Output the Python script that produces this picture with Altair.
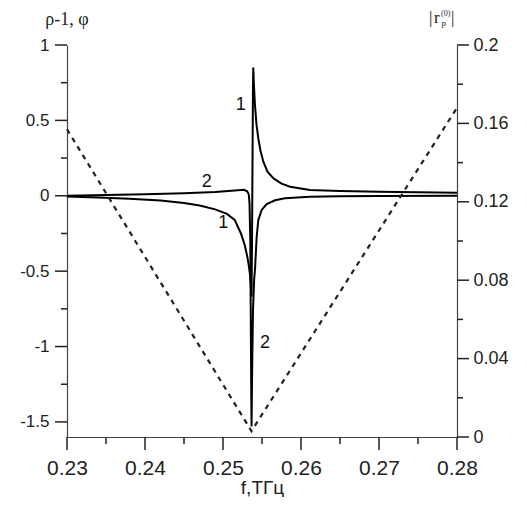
import altair as alt
import pandas as pd

# curve 1 (rho-1)
freq1 = [0.2300, 0.2340, 0.2380, 0.2420, 0.2450, 0.2470, 0.2490, 0.2505, 0.2515,
         0.2523, 0.2528, 0.2531, 0.2533, 0.25345, 0.25358, 0.25366, 0.25372,
         0.25378, 0.25384, 0.25388, 0.25395, 0.25410, 0.25430, 0.25453, 0.25480,
         0.25517, 0.25570, 0.25645, 0.25750, 0.25860, 0.26115, 0.2650, 0.2700,
         0.2750, 0.2800]
rho1 = [-0.005, -0.012, -0.020, -0.032, -0.048, -0.065, -0.090, -0.120, -0.160,
        -0.250, -0.330, -0.400, -0.460, -0.520, -0.600, -0.670, -0.300,
        0.200, 0.700, 0.850, 0.750, 0.600, 0.470, 0.380, 0.300,
        0.226, 0.160, 0.116, 0.080, 0.060, 0.038, 0.032, 0.027,
        0.023, 0.020]

# curve 2 (phi)
freq2 = [0.2300, 0.2350, 0.2400, 0.2450, 0.2490, 0.2515, 0.2527, 0.2531, 0.2533,
         0.25340, 0.25350, 0.25356, 0.25362, 0.25366, 0.25375, 0.25385, 0.25400,
         0.25410, 0.25432, 0.25453, 0.25496, 0.25560, 0.25667, 0.25795, 0.26115,
         0.2650, 0.2700, 0.2800]
phi2 = [0.000, 0.005, 0.010, 0.017, 0.025, 0.035, 0.040, 0.030, 0.010,
        -0.050, -0.300, -0.800, -1.300, -1.530, -1.100, -0.750, -0.550,
        -0.490, -0.270, -0.160, -0.094, -0.055, -0.030, -0.017, -0.006,
        -0.003, -0.001, 0.000]

# |r_p^(0)| dashed (right axis)
freq_r = [0.2300, 0.25365, 0.2800]
r_abs = [0.157, 0.003, 0.168]

# curve labels
lab_text = ["1", "2", "1", "2"]
lab_f = [0.25227, 0.24791, 0.25004, 0.25538]
lab_v = [0.602, 0.094, -0.183, -0.978]

x_major = [0.23, 0.24, 0.25, 0.26, 0.27, 0.28]
x_minor = [0.235, 0.245, 0.255, 0.265, 0.275]
yl_major = [-1.5, -1, -0.5, 0, 0.5, 1]
yl_minor = [-1.25, -0.75, -0.25, 0.25, 0.75]
yr_major = [0, 0.04, 0.08, 0.12, 0.16, 0.2]
yr_minor = [0.02, 0.06, 0.10, 0.14, 0.18]

W, H = 390, 392

df1 = pd.DataFrame({"f": freq1, "v": rho1})
df2 = pd.DataFrame({"f": freq2, "v": phi2})
dfr = pd.DataFrame({"f": freq_r, "r": r_abs})
dfl = pd.DataFrame({"f": lab_f, "v": lab_v, "t": lab_text})
one = pd.DataFrame({"a": [0]})

xs = alt.Scale(domain=[0.23, 0.28], nice=False, zero=False)
yl = alt.Scale(domain=[-1.6, 1], nice=False, zero=False)
yr = alt.Scale(domain=[0, 0.2], nice=False, zero=False)

AXC = "#444"
TKC = "#222"


def major_axis(values, orient, pad, fs, **extra):
    return alt.Axis(values=values, orient=orient, ticks=False,
                    domain=True, domainColor=AXC, domainWidth=1.2,
                    labelColor="#222", labelFont="Liberation Sans",
                    labelFontSize=fs, labelPadding=pad, labelFlush=False,
                    labelOverlap=False, grid=False,
                    labelExpr="'' + datum.value", **extra)


c1 = alt.Chart(df1).mark_line(color="black", strokeWidth=2).encode(
    x=alt.X("f:Q", scale=xs, axis=major_axis(
        x_major, "bottom", 20, 21,
        title="f,ТГц", titleFont="Liberation Sans", titleFontSize=19,
        titleFontWeight="normal", titleColor="#222", titlePadding=0)),
    y=alt.Y("v:Q", scale=yl, axis=major_axis(yl_major, "left", 18, 17, title=None)),
)

c2 = alt.Chart(df2).mark_line(color="black", strokeWidth=2).encode(
    x=alt.X("f:Q", scale=xs, axis=None),
    y=alt.Y("v:Q", scale=yl, axis=None),
)

labels = alt.Chart(dfl).mark_text(font="Liberation Sans", fontSize=18,
                                  color="#111").encode(
    x=alt.X("f:Q", scale=xs, axis=None),
    y=alt.Y("v:Q", scale=yl, axis=None),
    text="t:N",
)

dashed = alt.Chart(dfr).mark_line(color="#222", strokeWidth=2.2,
                                  strokeDash=[5, 5]).encode(
    x=alt.X("f:Q", scale=xs, axis=None),
    y=alt.Y("r:Q", scale=yr, axis=major_axis(yr_major, "right", 16, 18, title=None)),
)


def yticks(values, scale, xc, length):
    d = pd.DataFrame({"tv": values})
    return alt.Chart(d).mark_tick(color=TKC, thickness=1.5, size=length,
                                  orient="horizontal", opacity=1).encode(
        y=alt.Y("tv:Q", scale=scale, axis=None),
        x=alt.value(xc))


def xticks(values, yc, length):
    d = pd.DataFrame({"tf": values})
    return alt.Chart(d).mark_tick(color=TKC, thickness=1.5, size=length,
                                  orient="vertical", opacity=1).encode(
        x=alt.X("tf:Q", scale=xs, axis=None),
        y=alt.value(yc))


tick_layers = [
    yticks(yl_major, yl, -6, 12),
    yticks(yl_minor, yl, -3, 6),
    yticks(yr_major, yr, W + 6, 12),
    yticks(yr_minor, yr, W + 3, 6),
    xticks(x_major, H + 6.5, 13),
    xticks(x_minor, H + 3.5, 7),
]

title_left = alt.Chart(one).mark_text(
    text="ρ-1, φ", font="Liberation Serif", fontSize=18, color="#222",
    align="center", baseline="middle").encode(
    x=alt.value(0), y=alt.value(-25))

rt = dict(font="Liberation Serif", color="#222", baseline="middle", align="left")
r_bar1 = alt.Chart(one).mark_text(text="|", fontSize=17, **rt).encode(
    x=alt.value(362), y=alt.value(-27))
r_r = alt.Chart(one).mark_text(text="r", fontSize=17, **rt).encode(
    x=alt.value(367), y=alt.value(-27))
r_sup = alt.Chart(one).mark_text(text="(0)", fontSize=8, **rt).encode(
    x=alt.value(374), y=alt.value(-31))
r_sub = alt.Chart(one).mark_text(text="p", fontSize=9, **rt).encode(
    x=alt.value(374.5), y=alt.value(-22))
r_bar2 = alt.Chart(one).mark_text(text="|", fontSize=17, **rt).encode(
    x=alt.value(384), y=alt.value(-27))

chart = alt.layer(
    c1, c2, dashed, labels, *tick_layers,
    title_left, r_bar1, r_r, r_sup, r_sub, r_bar2,
).resolve_scale(x="independent", y="independent").properties(
    width=W, height=H,
    autosize=alt.AutoSizeParams(type="none"),
    padding={"left": 59, "top": 37, "right": 62, "bottom": 60},
).configure(background="white").configure_view(stroke=None)

chart.save("out.html", embed_options={"renderer": "svg", "actions": False})
